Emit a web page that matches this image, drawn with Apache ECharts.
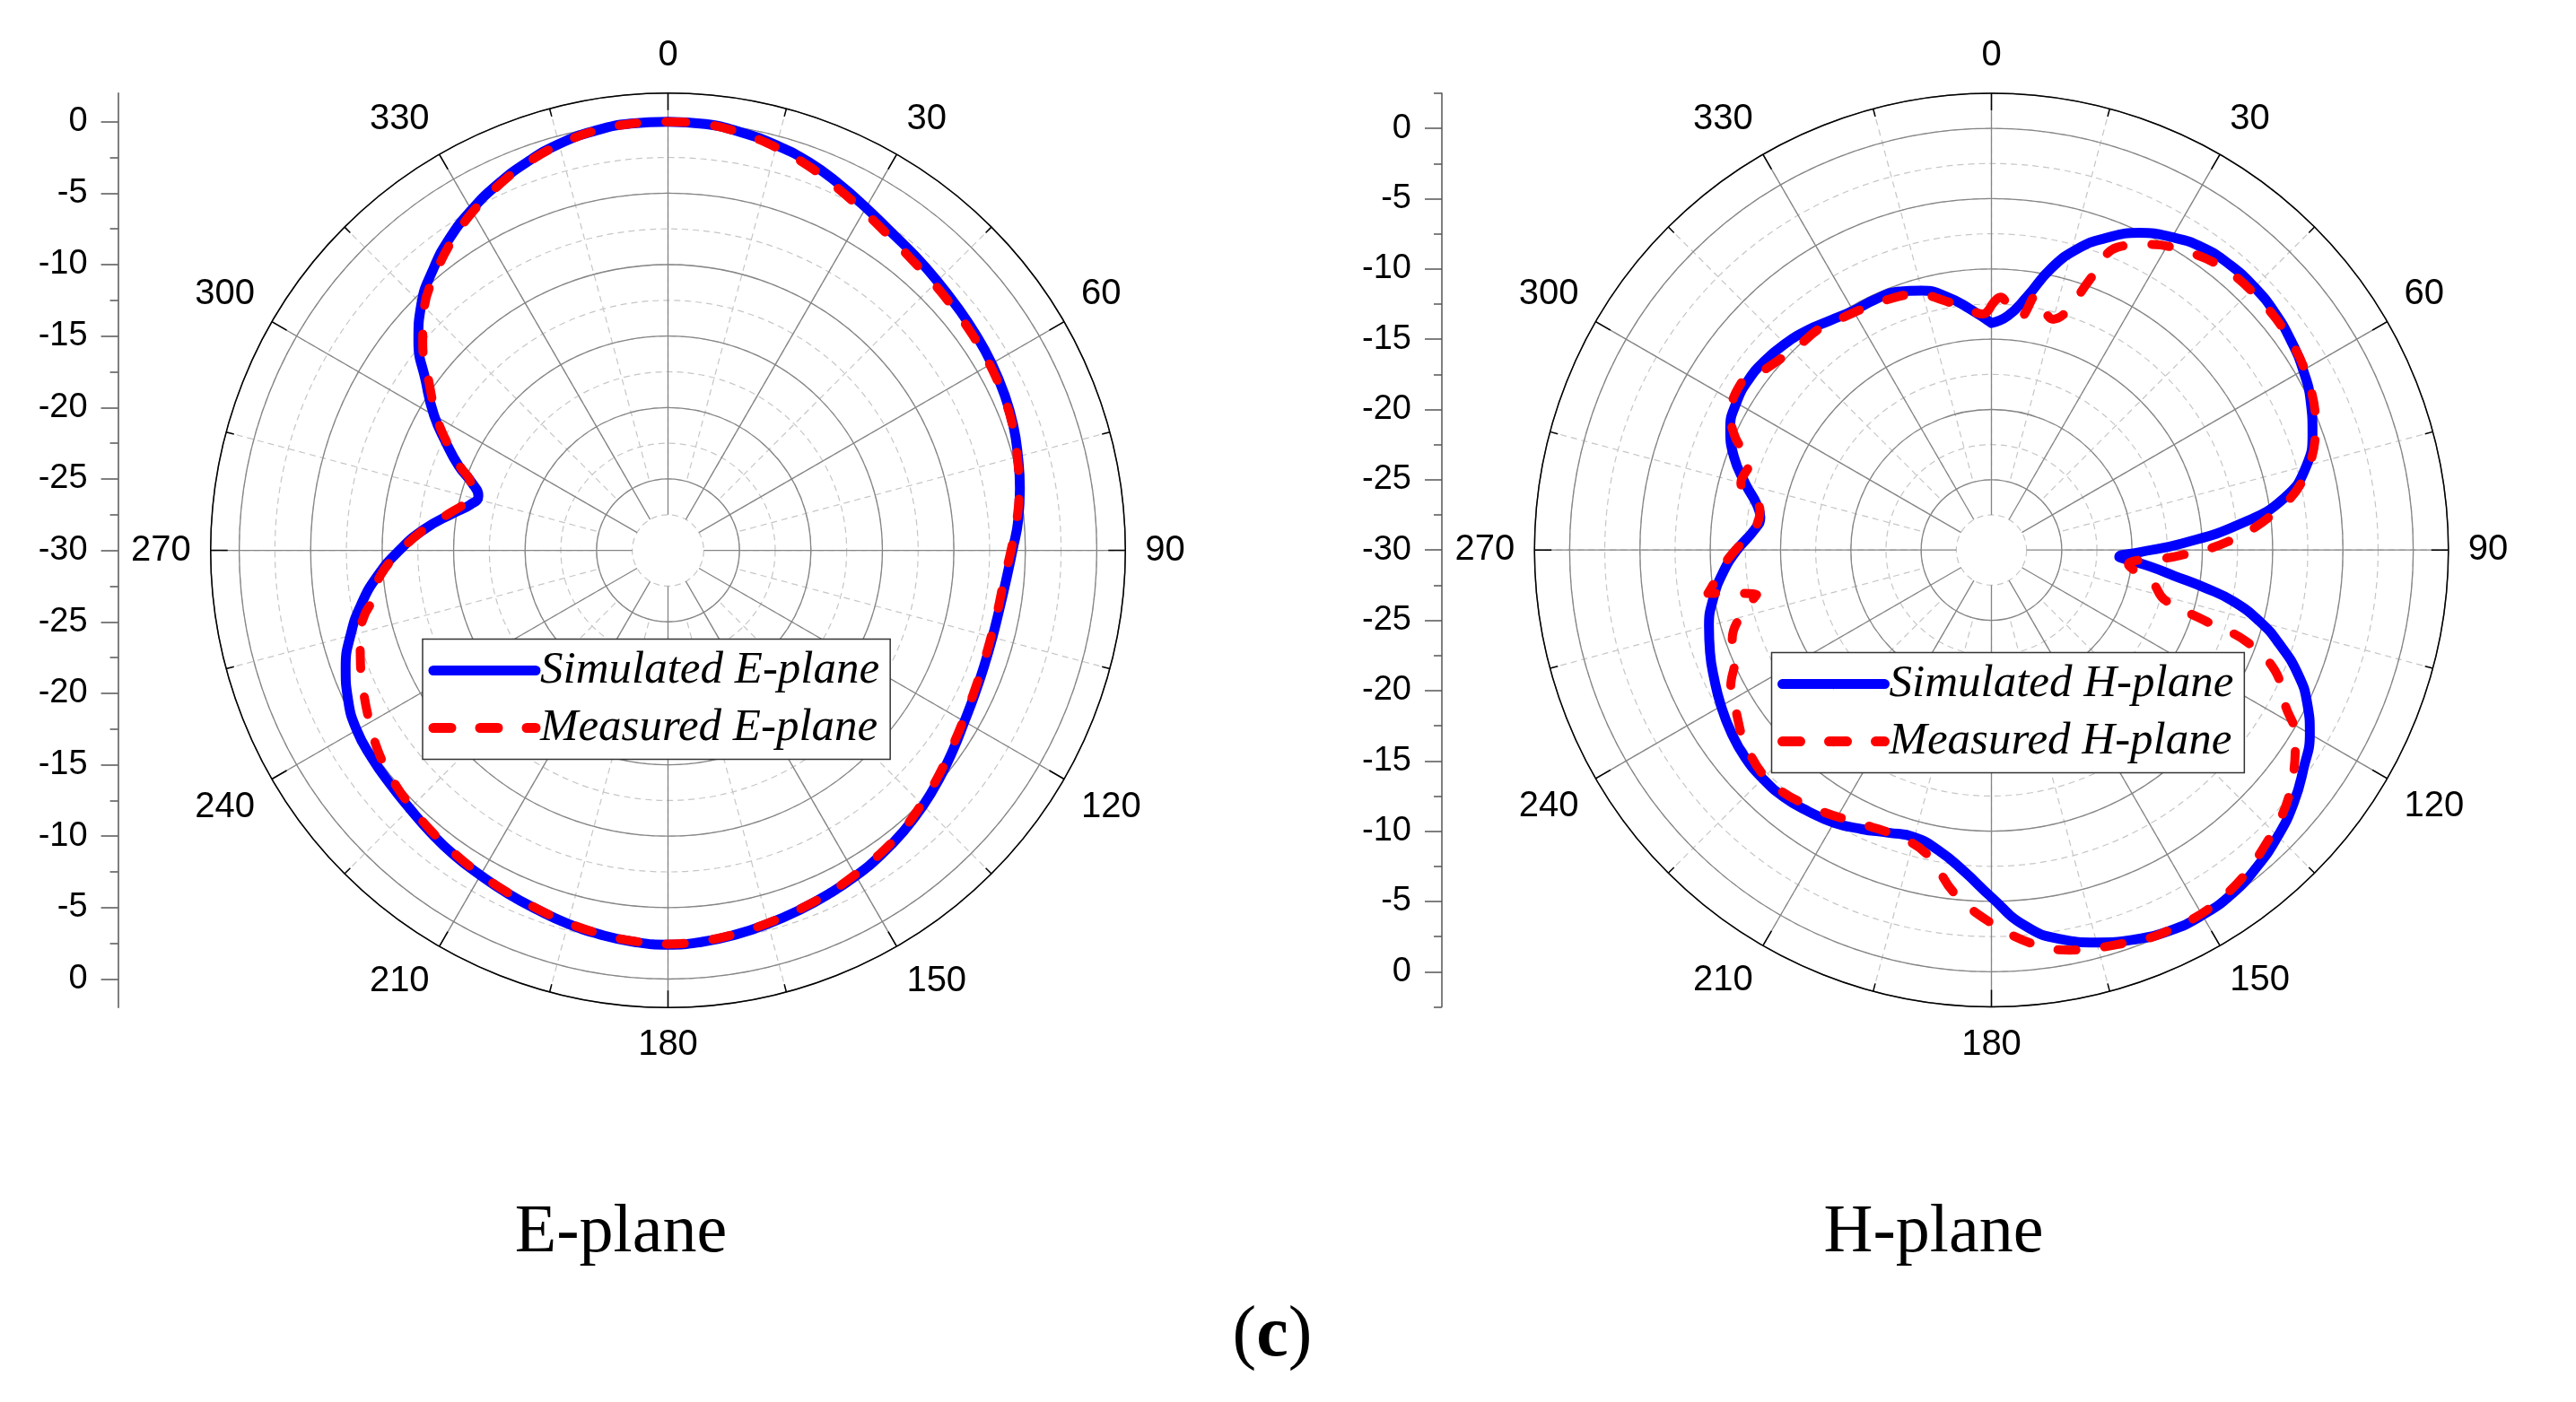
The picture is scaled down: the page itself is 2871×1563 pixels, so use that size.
<!DOCTYPE html>
<html>
<head>
<meta charset="utf-8">
<title>E-plane / H-plane radiation patterns</title>
<script src="https://cdn.jsdelivr.net/npm/echarts@6/dist/echarts.min.js"></script>
<style>
  html, body { margin: 0; padding: 0; background: #fff; }
  #chart { width: 2871px; height: 1563px; }
</style>
</head>
<body>
<div id="chart"></div>
<script>
// tick labels
var angleTicks = [0, 30, 60, 90, 120, 150, 180, 210, 240, 270, 300, 330];
var radialTicks = [0, -5, -10, -15, -20, -25, -30];
var radialMinorTicks = [2.5, -2.5, -7.5, -12.5, -17.5, -22.5, -27.5];

// E-plane, simulated (angle deg, gain dB)
var eSimAngle = [0, 5, 10, 15, 20, 25, 30, 35, 40, 45, 50, 55, 60, 65, 70, 75, 80, 85, 90, 95,
  100, 105, 110, 115, 120, 125, 130, 135, 140, 145, 150, 155, 160, 165, 170, 175, 180, 185, 190, 195,
  200, 205, 210, 215, 220, 225, 230, 235, 240, 245, 250, 255, 260, 265, 270, 275, 280, 283, 286, 289,
  292, 296, 300, 305, 310, 315, 320, 325, 330, 335, 340, 345, 350, 355, 360];
var eSimGain = [0, -0.05, -0.3, -0.65, -1.1, -1.7, -2.3, -2.8, -3.1, -3.35, -3.55, -3.7, -3.85, -4.05, -4.3, -4.65, -5.0, -5.4, -5.9, -6.25,
  -6.45, -6.5, -6.45, -6.3, -6.05, -5.65, -5.2, -4.75, -4.35, -4.0, -3.7, -3.45, -3.2, -2.95, -2.7, -2.5, -2.4, -2.5, -2.7, -2.95,
  -3.25, -3.5, -3.75, -3.95, -4.2, -4.45, -4.6, -4.7, -4.85, -5.3, -6.0, -7.0, -8.2, -9.6, -11.2, -12.9, -14.8, -15.8, -16.2, -15.5,
  -14.2, -12.7, -11.1, -9.3, -7.2, -5.6, -4.4, -3.35, -2.5, -1.75, -1.1, -0.55, -0.2, -0.02, 0];

// E-plane, measured
var eMeasAngle = [0, 5, 10, 15, 20, 25, 30, 35, 40, 45, 50, 55, 60, 65, 70, 75, 80, 85, 90, 95,
  100, 105, 110, 115, 120, 125, 130, 135, 140, 145, 150, 155, 160, 165, 170, 175, 180, 185, 190, 195,
  200, 205, 210, 215, 220, 225, 230, 235, 240, 245, 250, 255, 258, 260, 265, 270, 275, 280, 283, 286,
  289, 292, 296, 300, 305, 310, 315, 320, 325, 330, 335, 340, 345, 350, 355, 360];
var eMeasGain = [0, -0.05, -0.35, -0.8, -1.35, -2.0, -2.6, -3.1, -3.45, -3.65, -3.8, -3.9, -4.0, -4.15, -4.35, -4.7, -5.05, -5.5, -6.0, -6.4,
  -6.55, -6.6, -6.55, -6.4, -6.15, -5.8, -5.35, -4.9, -4.45, -4.1, -3.8, -3.5, -3.25, -3.0, -2.75, -2.55, -2.45, -2.55, -2.75, -3.0,
  -3.3, -3.55, -3.8, -4.05, -4.3, -4.6, -4.9, -5.3, -5.9, -6.5, -7.1, -7.7, -8.3, -8.9, -9.8, -11.3, -12.9, -14.6, -15.4, -15.7,
  -15.4, -14.3, -12.8, -11.3, -9.6, -7.6, -5.9, -4.7, -3.6, -2.65, -1.85, -1.15, -0.6, -0.2, -0.03, 0];

// H-plane, simulated
var hSimAngle = [0, 4, 8, 12, 16, 20, 25, 30, 35, 40, 45, 50, 55, 60, 65, 70, 75, 80, 84, 88,
  91, 93, 94, 96, 98, 100, 102, 105, 108, 112, 116, 120, 125, 130, 135, 140, 145, 150, 155, 160,
  165, 170, 175, 180, 185, 190, 195, 200, 205, 210, 215, 220, 225, 230, 235, 240, 245, 250, 255, 260,
  265, 270, 275, 278, 281, 285, 290, 295, 300, 305, 310, 315, 320, 325, 330, 335, 340, 345, 350, 355, 360];
var hSimGain = [-13.85, -13.3, -11.8, -9.5, -7.7, -6.4, -5.1, -4.3, -3.75, -3.55, -3.55, -3.7, -4.0, -4.4, -4.95, -5.7, -6.8, -8.9, -12.2, -16.4,
  -19.6, -20.9, -20.3, -18.6, -16.9, -14.6, -12.4, -10.2, -8.5, -6.5, -5.0, -3.85, -2.9, -1.95, -1.2, -0.6, -0.15, 0, -0.1, -0.5,
  -1.1, -1.9, -3.2, -5.3, -7.1, -8.3, -8.85, -8.6, -8.1, -7.6, -7.3, -7.05, -7.0, -7.1, -7.4, -7.8, -8.25, -8.7, -9.2, -9.9,
  -10.8, -11.9, -13.1, -13.4, -13.0, -11.9, -10.5, -9.5, -9.05, -8.9, -9.0, -9.25, -9.6, -10.05, -10.35, -10.35, -10.45, -10.9, -11.7, -12.8, -13.85];

// H-plane, measured
var hMeasAngle = [0, 2, 5, 7, 10, 12, 15, 17.5, 20, 22.5, 27, 31, 39, 47.5, 55.5, 62.5, 69, 77, 82.5, 88,
  92, 96, 101.5, 106, 108.3, 109.7, 113, 118, 121.3, 127.6, 136.2, 146.5, 155.8, 162.4, 168.9, 173.7, 180.5, 186.3, 191.3, 196.3,
  204.5, 213.5, 223, 231.3, 238, 242.5, 247, 251, 256.3, 259.2, 260.6, 261.3, 263.5, 266.7, 270.4, 274.5, 279.7, 285, 289.9, 293.6,
  297.4, 303.6, 306.2, 316.5, 322.2, 326, 332.3, 336.2, 344, 348.8, 355, 358, 360];
var hMeasGain = [-12.6, -12.0, -13.0, -13.3, -11.6, -12.4, -13.0, -12.2, -9.5, -6.7, -5.6, -4.9, -4.05, -3.9, -4.05, -4.5, -5.3, -7.2, -9.7, -13.2,
  -16.9, -20.2, -18.3, -17.2, -14.0, -10.8, -8.1, -6.3, -4.7, -3.0, -1.5, -0.3, -0.15, -0.55, -1.0, -1.75, -3.6, -5.5, -7.7, -8.5,
  -8.5, -7.8, -7.2, -7.65, -8.55, -9.1, -10.2, -10.5, -11.9, -13.0, -11.2, -9.6, -10.2, -10.9, -11.9, -13.0, -13.3, -11.55, -11.7, -10.15,
  -9.1, -8.6, -9.1, -10.0, -10.05, -10.3, -10.55, -10.65, -11.05, -11.85, -12.9, -13.2, -12.6];

function pairs(angle, gain) {
  return angle.map(function (a, i) { return [gain[i], a]; });
}

var labelFont = 'Liberation Sans';
var serifFont = 'Liberation Serif';
var gridSolid = '#858585';
var gridDash = '#c6c6c6';
var blue = '#0000ff';
var red = '#ff0000';

// each panel: center, pixels per dB, top of the radial scale
var panels = [
  { cx: 744.5, cy: 613.6, k: 15.93, max: 2, axisX: 131.6 },
  { cx: 2219.5, cy: 613.2, k: 15.67, max: 2.5, axisX: 1607 }
];

var polar = [], angleAxis = [], radiusAxis = [], grid = [], xAxis = [], yAxis = [];
var hidden = { axisLine: { show: false }, axisTick: { show: false }, axisLabel: { show: false } };

function axis(base) {
  return Object.assign({}, hidden, base);
}

panels.forEach(function (p, n) {
  var rOut = (30 + p.max) * p.k;
  // 3n   : outline, angle ticks and labels, carries the data (-30 dB at the centre)
  polar.push({ center: [p.cx, p.cy], radius: [0, rOut] });
  // 3n+1 : solid 30 deg spokes and dashed rings, starting at -27.5 dB
  polar.push({ center: [p.cx, p.cy], radius: [2.5 * p.k, rOut] });
  // 3n+2 : dashed 15 deg spokes and solid rings, starting at -25 dB
  polar.push({ center: [p.cx, p.cy], radius: [5 * p.k, rOut] });

  angleAxis.push({
    polarIndex: 3 * n, type: 'value', min: 0, max: 360, interval: 30,
    startAngle: 90, clockwise: true, z: 3,
    axisLine: { lineStyle: { color: '#000', width: 1.5 } },
    axisTick: { inside: true, length: 19, lineStyle: { color: '#000', width: 1.5 } },
    minorTick: { show: true, splitNumber: 2, length: 9, lineStyle: { color: '#000', width: 1.5 } },
    axisLabel: { margin: 22, fontFamily: labelFont, fontSize: 40, color: '#000' },
    splitLine: { show: false }
  });
  angleAxis.push(axis({
    polarIndex: 3 * n + 1, type: 'value', min: 0, max: 360, interval: 30,
    startAngle: 90, clockwise: true, z: 2,
    splitLine: { show: true, lineStyle: { color: gridSolid, width: 1.3 } }
  }));
  angleAxis.push(axis({
    polarIndex: 3 * n + 2, type: 'value', min: 0, max: 360, interval: 15,
    startAngle: 90, clockwise: true, z: 0,
    splitLine: { show: true, lineStyle: { color: gridDash, width: 1.2, type: [7, 5] } }
  }));

  radiusAxis.push(axis({
    polarIndex: 3 * n, type: 'value', min: -30, max: p.max, z: 0,
    splitLine: { show: false }
  }));
  radiusAxis.push(axis({
    polarIndex: 3 * n + 1, type: 'value', min: -27.5, max: p.max, interval: 2.5, z: 0,
    splitLine: { show: true, lineStyle: { color: gridDash, width: 1.2, type: [7, 5] } }
  }));
  radiusAxis.push(axis({
    polarIndex: 3 * n + 2, type: 'value', min: -25, max: p.max, interval: 5, z: 1,
    splitLine: { show: true, lineStyle: { color: gridSolid, width: 1.3 } }
  }));

  // left dB scale: -30 at the centre, mirrored above and below
  var span = 30 + p.max;
  var major = [], minor = [];
  radialTicks.forEach(function (t) { major.push(30 + t); if (t !== -30) major.push(-(30 + t)); });
  radialMinorTicks.forEach(function (t) { if (t <= p.max) { minor.push(30 + t); minor.push(-(30 + t)); } });
  grid.push({ left: p.axisX, top: p.cy - span * p.k, width: 10, height: 2 * span * p.k });
  xAxis.push({ gridIndex: n, type: 'value', min: 0, max: 1, show: false });
  yAxis.push({
    gridIndex: n, type: 'value', min: -span, max: span, position: 'left',
    axisLine: { show: true, onZero: false, lineStyle: { color: '#555', width: 1.5 } },
    axisTick: { show: true, length: 19, customValues: major, lineStyle: { color: '#555', width: 1.5 } },
    axisLabel: {
      show: true, customValues: major, margin: 34, fontFamily: labelFont, fontSize: 38, color: '#000',
      formatter: function (v) { return String(Math.abs(v) - 30); }
    },
    splitLine: { show: false }
  });
  yAxis.push({
    gridIndex: n, type: 'value', min: -span, max: span, position: 'left',
    axisLine: { show: false, onZero: false },
    axisTick: { show: true, length: 9, customValues: minor, lineStyle: { color: '#555', width: 1.5 } },
    axisLabel: { show: false },
    splitLine: { show: false }
  });
});

function legendFor(names, left, top) {
  return {
    data: names, orient: 'vertical', left: left, top: top,
    padding: [5, 12, 5, 6.5], itemGap: 4, itemWidth: 114, itemHeight: 14,
    backgroundColor: '#fff', borderColor: '#333', borderWidth: 1.5,
    lineStyle: { width: 11, cap: 'round' },
    textStyle: { fontFamily: serifFont, fontStyle: 'italic', fontSize: 51, lineHeight: 60, color: '#000' }
  };
}

function simSeries(name, polarIndex, data) {
  return {
    name: name, type: 'line', coordinateSystem: 'polar', polarIndex: polarIndex,
    data: data, symbol: 'none', smooth: true, z: 10,
    itemStyle: { color: blue },
    lineStyle: { color: blue, width: 11, cap: 'round', join: 'round' }
  };
}
function measSeries(name, polarIndex, data) {
  return {
    name: name, type: 'line', coordinateSystem: 'polar', polarIndex: polarIndex,
    data: data, symbol: 'none', smooth: 0.4, z: 11,
    itemStyle: { color: red },
    lineStyle: { color: red, width: 10, type: [20, 32], cap: 'round', join: 'round' }
  };
}

var option = {
  backgroundColor: '#fff',
  animation: false,
  polar: polar,
  angleAxis: angleAxis,
  radiusAxis: radiusAxis,
  grid: grid,
  xAxis: xAxis,
  yAxis: yAxis,
  legend: [
    legendFor(['Simulated E-plane', 'Measured E-plane'], 471, 712.5),
    legendFor(['Simulated H-plane', 'Measured H-plane'], 1974.5, 727.6)
  ],
  series: [
    simSeries('Simulated E-plane', 0, pairs(eSimAngle, eSimGain)),
    measSeries('Measured E-plane', 0, pairs(eMeasAngle, eMeasGain)),
    simSeries('Simulated H-plane', 3, pairs(hSimAngle, hSimGain)),
    measSeries('Measured H-plane', 3, pairs(hMeasAngle, hMeasGain))
  ],
  graphic: [
    { type: 'text', x: 692, y: 1375, style: { text: 'E-plane', fontFamily: serifFont, fontSize: 76, fill: '#000', align: 'center', verticalAlign: 'middle' } },
    { type: 'text', x: 2155, y: 1375, style: { text: 'H-plane', fontFamily: serifFont, fontSize: 76, fill: '#000', align: 'center', verticalAlign: 'middle' } },
    { type: 'text', x: 1418, y: 1490, style: {
      text: '({b|c})', fontFamily: serifFont, fontSize: 80, fill: '#000', align: 'center', verticalAlign: 'middle',
      rich: { b: { fontFamily: serifFont, fontSize: 80, fontWeight: 'bold', fill: '#000' } }
    } }
  ]
};

var myChart = echarts.init(document.getElementById('chart'));
myChart.setOption(option);
</script>
</body>
</html>
